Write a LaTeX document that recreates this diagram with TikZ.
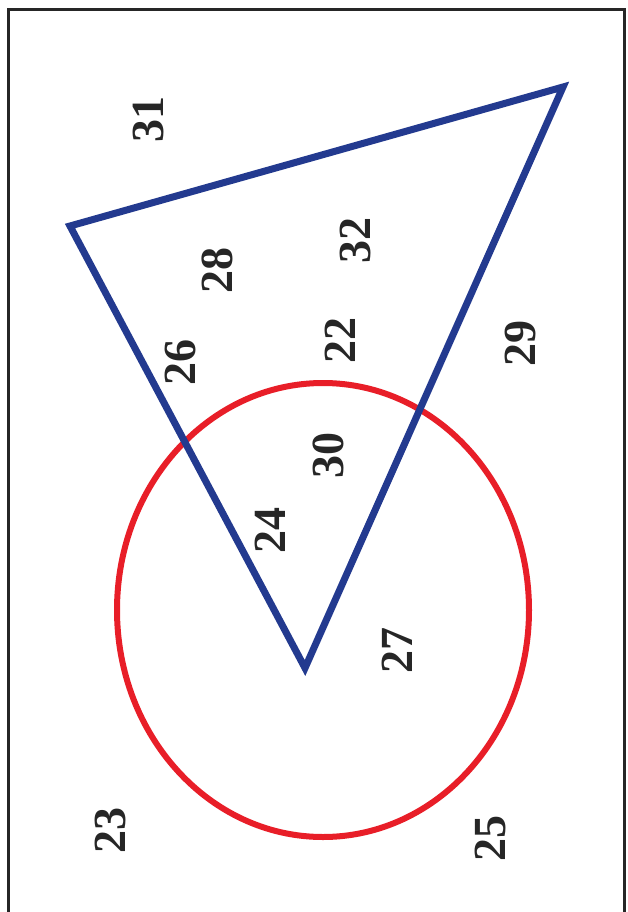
\documentclass[tikz,border=0pt]{standalone}
\usepackage{fontspec}
\setmainfont{Liberation Serif}
\begin{document}
\begin{tikzpicture}[x=1pt,y=-1pt,
  lbl/.style={font=\fontsize{46}{52}\selectfont\bfseries, rotate=90, inner sep=0pt, text=black!85},
  tri/.style={draw={rgb,255:red,35;green,58;blue,143}, line width=7pt, line join=miter},
  circ/.style={draw={rgb,255:red,232;green,30;blue,40}, line width=6pt}]
\useasboundingbox (0,0) rectangle (627,912);
\draw[line width=3pt, black!85] (8,914) -- (8,10) -- (624,10) -- (624,914);
\draw[circ] (323,610) ellipse [x radius=206, y radius=227];
\coordinate (A) at (70,226);
\coordinate (B) at (563,87);
\coordinate (C) at (305,668);
\draw[tri] (A) -- (B) -- (C) -- cycle;
\node[lbl] (n31) at (148,120) {31};
\node[lbl] (n28) at (217,270) {28};
\node[lbl] (n32) at (355,240) {32};
\node[lbl] (n26) at (180,362) {26};
\node[lbl] (n22) at (340,340) {22};
\node[lbl] (n29) at (520,343) {29};
\node[lbl] (n30) at (328,455) {30};
\node[lbl] (n24) at (270,530) {24};
\node[lbl] (n27) at (397,650) {27};
\node[lbl] (n23) at (110,830) {23};
\node[lbl] (n25) at (490,838) {25};
\end{tikzpicture}
\end{document}
